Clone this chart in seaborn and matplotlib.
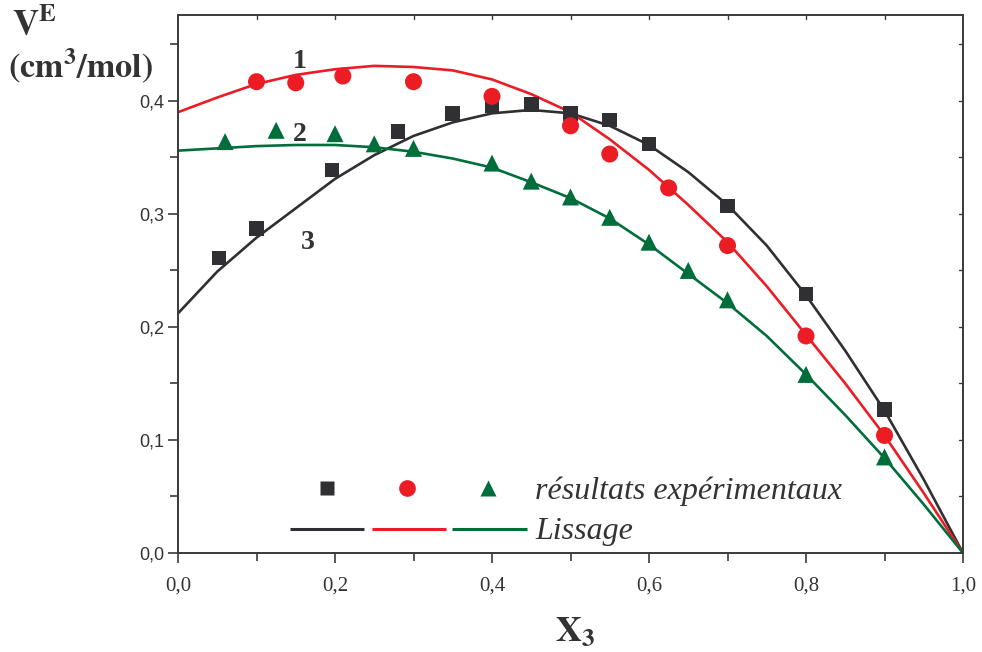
import numpy as np
import pandas as pd
import matplotlib
matplotlib.use("Agg")
import matplotlib.pyplot as plt
from matplotlib.ticker import MultipleLocator, FuncFormatter
import seaborn as sns

# Experimental points
x_sq = [0.052, 0.10, 0.196, 0.28, 0.35, 0.40, 0.45, 0.50, 0.55, 0.60, 0.70, 0.80, 0.90]
v_sq = [0.261, 0.287, 0.339, 0.373, 0.389, 0.396, 0.397, 0.389, 0.383, 0.362, 0.307, 0.229, 0.127]

x_ci = [0.10, 0.15, 0.21, 0.30, 0.40, 0.50, 0.55, 0.625, 0.70, 0.80, 0.90]
v_ci = [0.417, 0.416, 0.422, 0.417, 0.404, 0.378, 0.353, 0.323, 0.272, 0.192, 0.104]

x_tr = [0.06, 0.125, 0.20, 0.25, 0.30, 0.40, 0.45, 0.50, 0.55, 0.60, 0.65, 0.70, 0.80, 0.90]
v_tr = [0.364, 0.374, 0.371, 0.362, 0.358, 0.345, 0.329, 0.315, 0.297, 0.275, 0.250, 0.224, 0.158, 0.085]

# Smoothed curves (Lissage)
x_fit = [0.0, 0.05, 0.10, 0.15, 0.20, 0.25, 0.30, 0.35, 0.40, 0.45, 0.50,
         0.55, 0.60, 0.65, 0.70, 0.75, 0.80, 0.85, 0.90, 0.95, 1.0]
fit_1 = [0.390, 0.403, 0.415, 0.423, 0.428, 0.431, 0.430, 0.427, 0.419, 0.406, 0.390,
         0.366, 0.339, 0.308, 0.275, 0.236, 0.193, 0.150, 0.104, 0.053, 0.0]
fit_2 = [0.356, 0.358, 0.360, 0.361, 0.361, 0.359, 0.355, 0.349, 0.341, 0.328, 0.314,
         0.296, 0.273, 0.247, 0.221, 0.192, 0.158, 0.122, 0.084, 0.043, 0.0]
fit_3 = [0.212, 0.249, 0.279, 0.305, 0.331, 0.352, 0.369, 0.381, 0.389, 0.392, 0.389,
         0.378, 0.361, 0.337, 0.308, 0.272, 0.228, 0.179, 0.126, 0.065, 0.0]

C_BLACK = "#2f2f34"
C_RED = "#ec1c24"
C_GREEN = "#006e3b"

sns.set_style("ticks")
plt.rcParams["font.family"] = ["Liberation Serif", "DejaVu Serif"]

fig = plt.figure(figsize=(9.82, 6.52), dpi=100)
ax = fig.add_axes([178 / 982, 1 - 553 / 652, (963 - 178) / 982, (553 - 15) / 652])

lw = 1.9
sns.lineplot(x=x_fit, y=fit_3, ax=ax, color=C_BLACK, lw=lw, zorder=2)
sns.lineplot(x=x_fit, y=fit_1, ax=ax, color=C_RED, lw=lw, zorder=2)
sns.lineplot(x=x_fit, y=fit_2, ax=ax, color=C_GREEN, lw=lw, zorder=2)

sns.scatterplot(x=x_sq, y=v_sq, ax=ax, marker="s", s=110, color=C_BLACK,
                edgecolor="none", zorder=3)
sns.scatterplot(x=x_ci, y=v_ci, ax=ax, marker="o", s=150, color=C_RED,
                edgecolor="none", zorder=4)
sns.scatterplot(x=x_tr, y=v_tr, ax=ax, marker="^", s=150, color=C_GREEN,
                edgecolor="none", zorder=4)

ax.set_xlim(0, 1.0)
ax.set_ylim(0, 0.476)
ax.xaxis.set_major_locator(MultipleLocator(0.2))
ax.xaxis.set_minor_locator(MultipleLocator(0.1))
ax.yaxis.set_major_locator(MultipleLocator(0.1))
ax.yaxis.set_minor_locator(MultipleLocator(0.05))
comma = FuncFormatter(lambda v, p: f"{v:.1f}".replace(".", ","))
ax.xaxis.set_major_formatter(comma)
ax.yaxis.set_major_formatter(comma)

frame = "#3a3a3a"
for sp in ax.spines.values():
    sp.set_color(frame)
    sp.set_linewidth(1.4)
ax.tick_params(which="both", direction="out", color=frame, width=1.2,
               top=False, right=False)
ax.tick_params(which="major", length=7)
ax.tick_params(which="minor", length=6)
ax.tick_params(axis="x", which="major", labelsize=15, pad=10, labelcolor="#333333")
ax.tick_params(axis="y", which="major", labelsize=13, pad=3, labelcolor="#333333")
for t in ax.get_yticklabels():
    t.set_fontfamily(["Liberation Sans", "DejaVu Sans"])

# mirrored small ticks on top and right spines
for v in np.arange(0.1, 1.0, 0.1):
    ax.plot([v, v], [1.0, 0.992], transform=ax.get_xaxis_transform(), color=frame, lw=1.0, clip_on=False)
for v in np.arange(0.05, 0.476, 0.05):
    ax.plot([1.0, 0.995], [v, v], transform=ax.get_yaxis_transform(), color=frame, lw=1.0, clip_on=False)

ax.set_xlabel("")
ax.set_ylabel("")

# axis titles
fig.text(575 / 982, 1 - 632 / 652, r"$\mathbf{X_3}$", fontsize=26, ha="center", va="center",
         color="#333333", math_fontfamily="stix")
fig.text(12 / 982, 1 - 25 / 652, r"$\mathbf{V^E}$", fontsize=26, ha="left", va="center",
         color="#333333", math_fontfamily="stix")
fig.text(8 / 982, 1 - 66 / 652, r"$\mathbf{(cm^3/mol)}$", fontsize=24.5, ha="left", va="center",
         color="#333333", math_fontfamily="stix")

# curve numbers
for lab, xx, yy in [("1", 0.155, 0.435), ("2", 0.155, 0.370), ("3", 0.165, 0.275)]:
    ax.text(xx, yy, lab, fontsize=20, fontweight="bold", color="#333333",
            ha="center", va="center")

# key
tA = ax.transAxes
def ax_xy(px, py):
    return (px - 178) / 785, (553 - py) / 538

for px, mk, col, ms in [(327, "s", C_BLACK, 10), (407, "o", C_RED, 12), (488, "^", C_GREEN, 12)]:
    ax.plot(*ax_xy(px, 488), marker=mk, color=col, ms=ms, mec="none", transform=tA)
for x0, x1, col in [(290, 364, C_BLACK), (372, 446, C_RED), (452, 527, C_GREEN)]:
    a0 = ax_xy(x0, 529)
    a1 = ax_xy(x1, 529)
    ax.plot([a0[0], a1[0]], [a0[1], a1[1]], color=col, lw=2.2, transform=tA, solid_capstyle="butt")
ax.text(*ax_xy(535, 491), "résultats expérimentaux", transform=tA, fontsize=23, style="italic",
        color="#333333", ha="left", va="center")
ax.text(*ax_xy(535, 531), "Lissage", transform=tA, fontsize=23, style="italic",
        color="#333333", ha="left", va="center")

fig.savefig("out.png", dpi=100)
